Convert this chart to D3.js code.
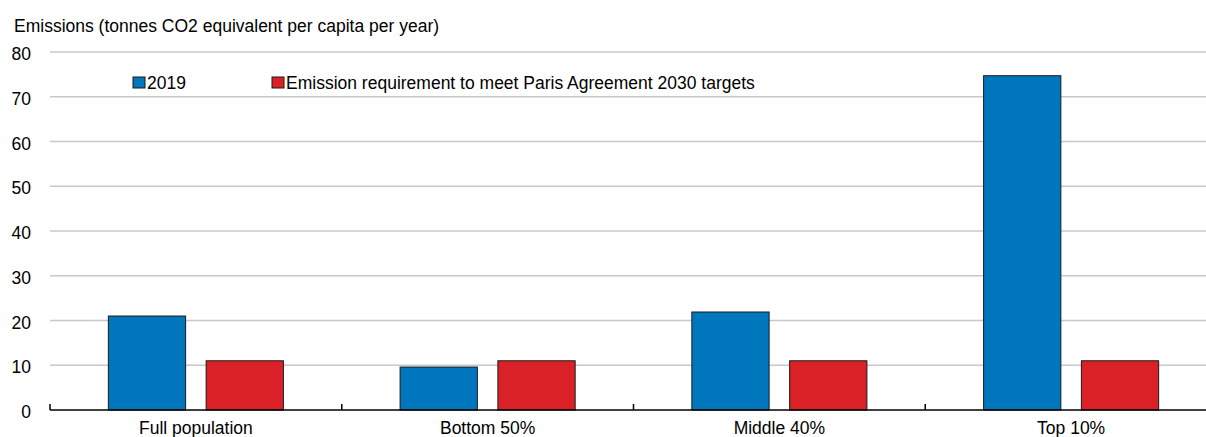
<!DOCTYPE html>
<html>
<head>
<meta charset="utf-8">
<script src="https://cdn.jsdelivr.net/npm/d3@7"></script>
<style>
  body { margin: 0; background: #fff; }
  svg text { font-family: "Liberation Sans", Arial, sans-serif; fill: #000; }
</style>
</head>
<body>
<svg id="chart"></svg>
<script>
const categories = ["Full population", "Bottom 50%", "Middle 40%", "Top 10%"];
const seriesNames = ["2019", "Emission requirement to meet Paris Agreement 2030 targets"];
const values2019 = [21.0, 9.6, 21.9, 74.7];
const valuesParis = [11.0, 11.0, 11.0, 11.0];
const yTicks = [0, 10, 20, 30, 40, 50, 60, 70, 80];
const colors = ["#0077bd", "#da2128"];

const width = 1206;
const height = 437;
const margin = { top: 52, right: -11, bottom: 27, left: 50 };
const fontSize = "17.5px";

const svg = d3.select("#chart").attr("width", width).attr("height", height);

const rows = categories.map((c, i) => ({ cat: c, vals: [values2019[i], valuesParis[i]] }));

const x0 = d3
  .scaleBand()
  .domain(categories)
  .range([margin.left, width - margin.right])
  .paddingInner(0.4)
  .paddingOuter(0.2);

const x1 = d3
  .scaleBand()
  .domain([0, 1])
  .range([0, x0.bandwidth()])
  .paddingInner(0.21);

const y = d3
  .scaleLinear()
  .domain([0, 80])
  .range([height - margin.bottom, margin.top]);

// gridlines
svg
  .append("g")
  .selectAll("line")
  .data(yTicks.filter((d) => d > 0))
  .enter()
  .append("line")
  .attr("x1", margin.left)
  .attr("x2", width)
  .attr("y1", (d) => y(d))
  .attr("y2", (d) => y(d))
  .attr("stroke", "#c8c8c8")
  .attr("stroke-width", 1.5);

// y labels
svg
  .append("g")
  .selectAll("text")
  .data(yTicks)
  .enter()
  .append("text")
  .attr("x", 31)
  .attr("y", (d) => y(d) + 8)
  .attr("text-anchor", "end")
  .style("font-size", fontSize)
  .text((d) => d);

// bars
const groups = svg
  .selectAll(".grp")
  .data(rows)
  .enter()
  .append("g")
  .attr("class", "grp")
  .attr("transform", (d) => `translate(${x0(d.cat)},0)`);

groups
  .selectAll("rect")
  .data((d) => d.vals.map((v, i) => ({ v, i })))
  .enter()
  .append("rect")
  .attr("x", (d) => x1(d.i))
  .attr("y", (d) => y(d.v))
  .attr("width", x1.bandwidth())
  .attr("height", (d) => y(0) - y(d.v))
  .attr("fill", (d) => colors[d.i])
  .attr("stroke", "#1a1a1a")
  .attr("stroke-width", 1);

// x axis
const xAxis = d3.axisBottom(x0).tickSize(0).tickPadding(12);
const gx = svg
  .append("g")
  .attr("transform", `translate(0,${y(0)})`)
  .call(xAxis);
gx.select(".domain").attr("stroke", "#000").attr("stroke-width", 1.5).attr("d", `M${margin.left},0H${width}`);
gx.selectAll("text").style("font-size", fontSize).attr("font-family", null);
gx.attr("font-family", null).attr("font-size", null);

// category boundary ticks
const sepTicks = categories.map((c) => x0(c) - (x0.step() * x0.paddingInner()) / 2);
sepTicks[0] = x0.range()[0];
svg
  .append("g")
  .selectAll("line")
  .data(sepTicks)
  .enter()
  .append("line")
  .attr("x1", (d) => d)
  .attr("x2", (d) => d)
  .attr("y1", y(0) - 6)
  .attr("y2", y(0))
  .attr("stroke", "#000")
  .attr("stroke-width", 1.5);

// title
svg
  .append("text")
  .attr("x", 14)
  .attr("y", 32)
  .style("font-size", fontSize)
  .text("Emissions (tonnes CO2 equivalent per capita per year)");

// legend
const legendX = [133, 272];
const legend = svg
  .append("g")
  .selectAll("g")
  .data(seriesNames)
  .enter()
  .append("g")
  .attr("transform", (d, i) => `translate(${legendX[i]},77)`);

legend
  .append("rect")
  .attr("width", 12)
  .attr("height", 11)
  .attr("fill", (d, i) => colors[i])
  .attr("stroke", "#1a1a1a")
  .attr("stroke-width", 1);

legend
  .append("text")
  .attr("x", 14)
  .attr("y", 11.5)
  .style("font-size", fontSize)
  .text((d) => d);
</script>
</body>
</html>
